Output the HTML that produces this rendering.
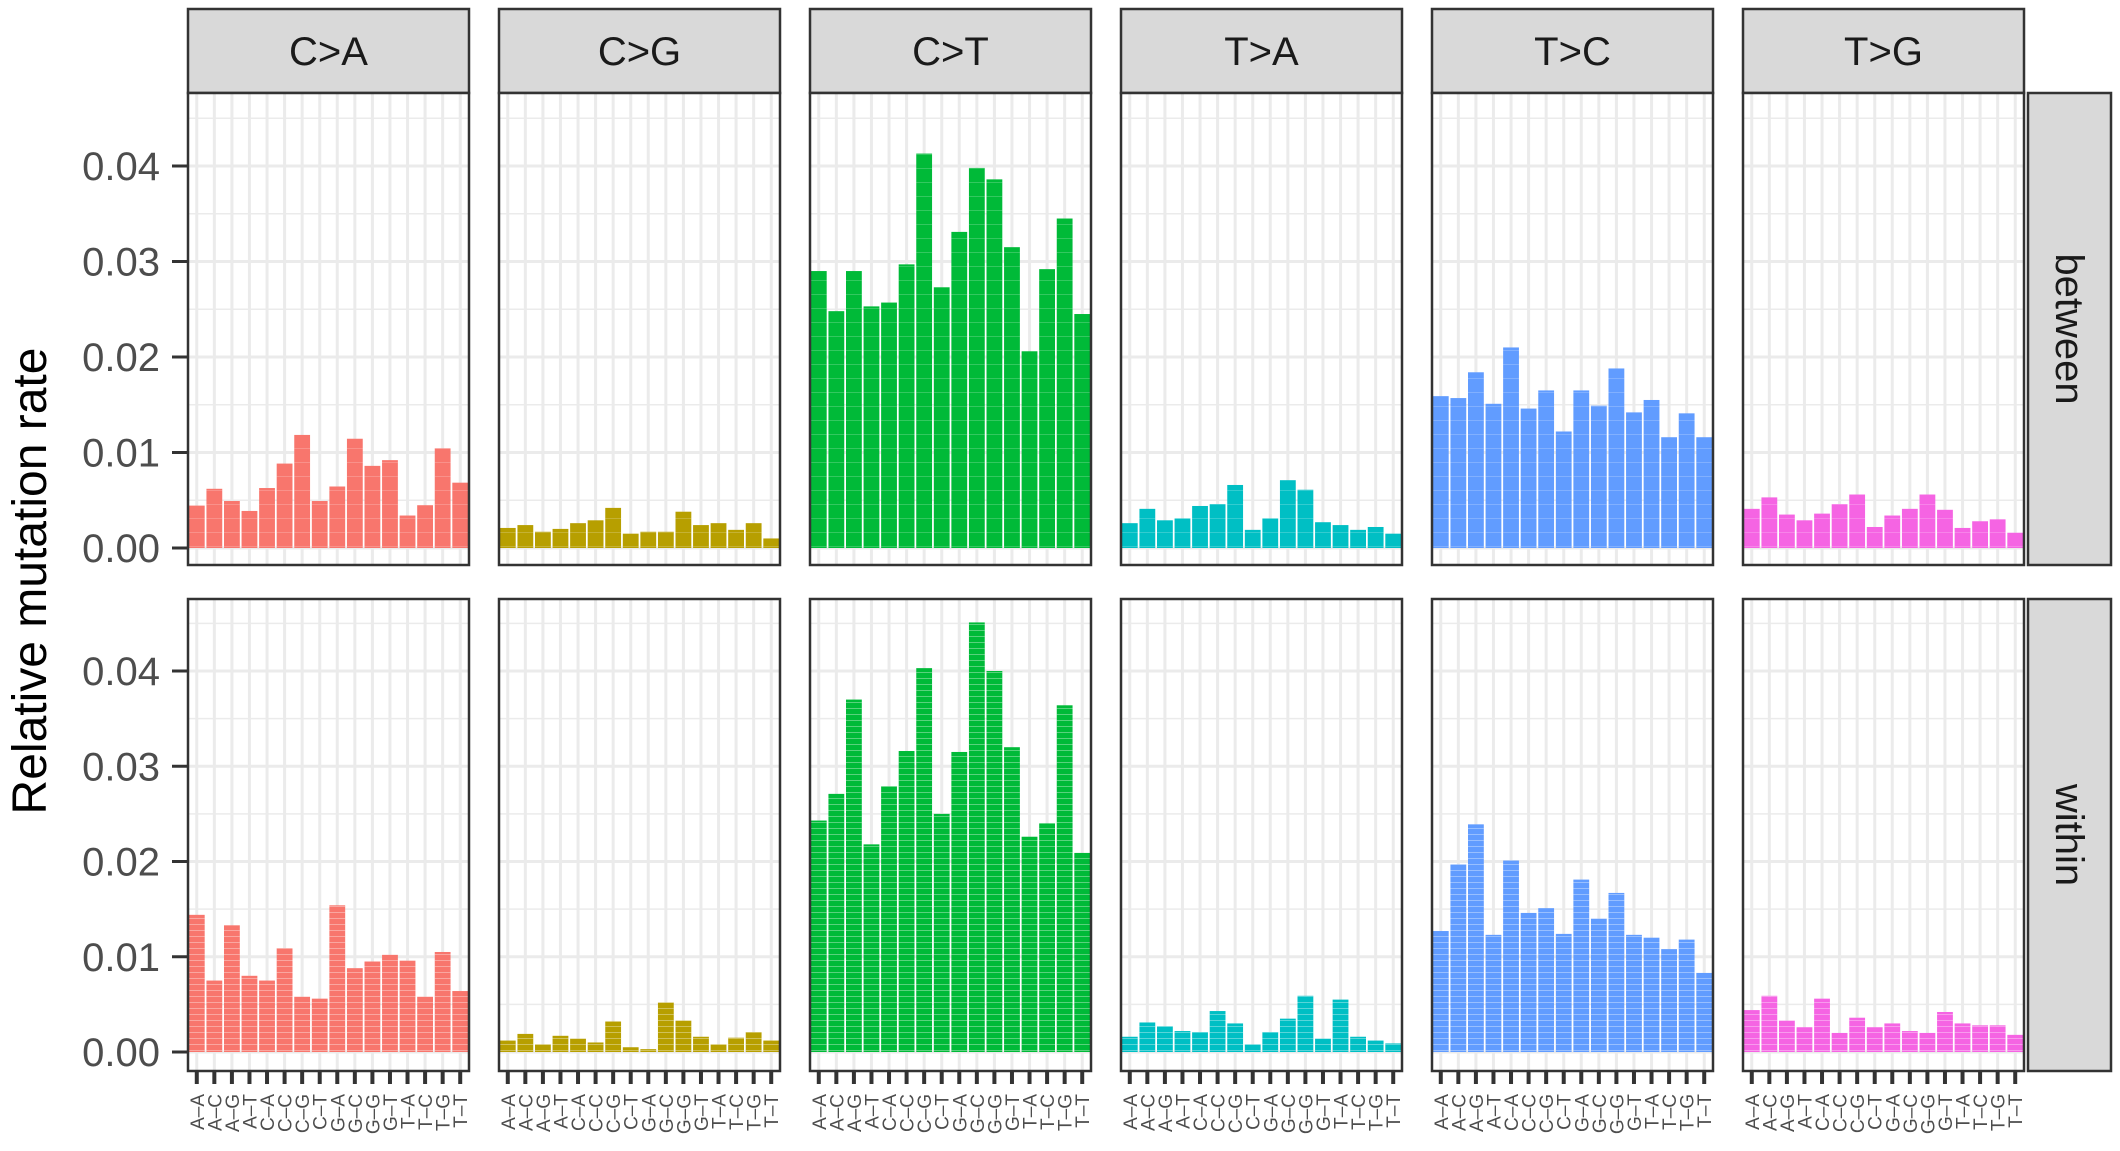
<!DOCTYPE html>
<html><head><meta charset="utf-8"><style>
html,body{margin:0;padding:0;background:#fff;}
svg{display:block;font-family:"Liberation Sans",sans-serif;}
</style></head><body>
<svg id="s" width="2120" height="1151" viewBox="0 0 2120 1151" xmlns="http://www.w3.org/2000/svg">
<defs>
<pattern id="st" width="10" height="6" patternUnits="userSpaceOnUse"><rect width="10" height="1" fill="#fff" opacity="0.35"/></pattern>
<pattern id="st2" width="10" height="14" patternUnits="userSpaceOnUse"><rect width="10" height="1" fill="#fff" opacity="0.2"/></pattern>
</defs>
<text x="0" y="0" transform="translate(46,581) rotate(-90)" text-anchor="middle" font-size="48" fill="#000">Relative mutation rate</text>
</svg>
<script>
(function(){
const S=document.getElementById('s');const NS='http://www.w3.org/2000/svg';
function el(t,a,txt){const e=document.createElementNS(NS,t);for(const k in a)e.setAttribute(k,a[k]);if(txt!==undefined)e.textContent=txt;S.appendChild(e);return e;}
const names=['C>A','C>G','C>T','T>A','T>C','T>G'];
const cols=['#F8766D','#B79F00','#00BA38','#00BFC4','#619CFF','#F564E3'];
const cats=['A-A','A-C','A-G','A-T','C-A','C-C','C-G','C-T','G-A','G-C','G-G','G-T','T-A','T-C','T-G','T-T'];
const dTop=[
[0.00444,0.0062,0.00492,0.00388,0.00628,0.00884,0.01184,0.00492,0.00644,0.01144,0.0086,0.0092,0.0034,0.00448,0.01044,0.00684],
[0.0021,0.0024,0.0017,0.0020,0.0026,0.0029,0.0042,0.0015,0.0017,0.0017,0.0038,0.0024,0.0026,0.0019,0.0026,0.0010],
[0.029,0.0248,0.029,0.0253,0.0257,0.0297,0.0413,0.0273,0.0331,0.0398,0.0386,0.0315,0.0206,0.0292,0.0345,0.0245],
[0.0026,0.0041,0.0029,0.0031,0.0044,0.0046,0.0066,0.0019,0.0031,0.0071,0.0061,0.0027,0.0024,0.0019,0.0022,0.0015],
[0.0159,0.0157,0.0184,0.0151,0.0210,0.0146,0.0165,0.0122,0.0165,0.0149,0.0188,0.0142,0.0155,0.0116,0.0141,0.0116],
[0.0041,0.0053,0.0035,0.0029,0.0036,0.0046,0.0056,0.0022,0.0034,0.0041,0.0056,0.0040,0.0021,0.0028,0.0030,0.0016]];
const dBot=[
[0.0144,0.0075,0.0133,0.0080,0.0075,0.0109,0.0058,0.0056,0.0154,0.0088,0.0095,0.0102,0.0096,0.0058,0.0105,0.0064],
[0.0012,0.0019,0.0008,0.0017,0.0014,0.0010,0.0032,0.0005,0.0003,0.0052,0.0033,0.0016,0.0008,0.0015,0.0021,0.0012],
[0.0243,0.0271,0.0370,0.0218,0.0279,0.0316,0.0403,0.0250,0.0315,0.0451,0.0400,0.0320,0.0226,0.0240,0.0364,0.0209],
[0.0016,0.0031,0.0027,0.0022,0.0021,0.0043,0.0030,0.0008,0.0021,0.0035,0.0059,0.0014,0.0055,0.0016,0.0012,0.0009],
[0.0127,0.0197,0.0239,0.0123,0.0201,0.0146,0.0151,0.0124,0.0181,0.0140,0.0167,0.0123,0.0120,0.0108,0.0118,0.0083],
[0.0044,0.0059,0.0033,0.0026,0.0056,0.0020,0.0036,0.0026,0.0030,0.0022,0.0020,0.0042,0.0030,0.0028,0.0028,0.0018]];
const rows=[{y0:93,y1:565,z:548,k:9550,d:dTop,pat:'st2',lab:'between'},{y0:599,y1:1071,z:1052,k:9525,d:dBot,pat:'st',lab:'within'}];
const W=281,step=311,X0=188,unit=W/16;
for(let p=0;p<6;p++){
  const x0=X0+p*step;
  el('rect',{x:x0,y:9,width:W,height:84,fill:'#d9d9d9',stroke:'#333','stroke-width':2.5});
  el('text',{x:x0+W/2,y:65,'text-anchor':'middle','font-size':40,fill:'#1a1a1a'},names[p]);
  rows.forEach(function(r){
    el('rect',{x:x0,y:r.y0,width:W,height:r.y1-r.y0,fill:'#fff'});
    for(let j=0;j<=9;j++){const v=j*0.005;const y=r.z-v*r.k;if(y<r.y0)break;const maj=(j%2==0);
      el('line',{x1:x0,x2:x0+W,y1:y,y2:y,stroke:'#ebebeb','stroke-width':maj?3:1.5});}
    for(let i=0;i<16;i++){const cx=x0+unit*(i+0.5);el('line',{x1:cx,x2:cx,y1:r.y0,y2:r.y1,stroke:'#ebebeb','stroke-width':3});}
    for(let i=0;i<16;i++){const v=r.d[p][i];const h=v*r.k;const bx=x0+unit*(i+0.05);
      el('rect',{x:bx,y:r.z-h,width:unit*0.9,height:h,fill:cols[p]});
      el('rect',{x:bx,y:r.z-h,width:unit*0.9,height:h,fill:'url(#'+r.pat+')'});}
    el('rect',{x:x0,y:r.y0,width:W,height:r.y1-r.y0,fill:'none',stroke:'#333','stroke-width':2.5});
    if(p==0){for(let t=0;t<=4;t++){const y=r.z-t*0.01*r.k;
      el('line',{x1:172,x2:187,y1:y,y2:y,stroke:'#333','stroke-width':3});
      el('text',{x:160,y:y+14,'text-anchor':'end','font-size':40,fill:'#4d4d4d'},'0.0'+t);}}
  });
  for(let i=0;i<16;i++){const cx=x0+unit*(i+0.5);
    el('line',{x1:cx,x2:cx,y1:1071,y2:1084,stroke:'#333','stroke-width':4});
    el('text',{x:0,y:0,transform:'translate('+(cx+7)+',1094) rotate(-90)','text-anchor':'end','font-size':19,fill:'#4d4d4d'},cats[i].replace('-','\u2013'));}
}
rows.forEach(function(r){
  el('rect',{x:2028,y:r.y0,width:83,height:r.y1-r.y0,fill:'#d9d9d9',stroke:'#333','stroke-width':2.5});
  el('text',{x:0,y:0,transform:'translate(2056,'+((r.y0+r.y1)/2)+') rotate(90)','text-anchor':'middle','font-size':40,fill:'#1a1a1a'},r.lab);
});
})();
</script>
</body></html>
